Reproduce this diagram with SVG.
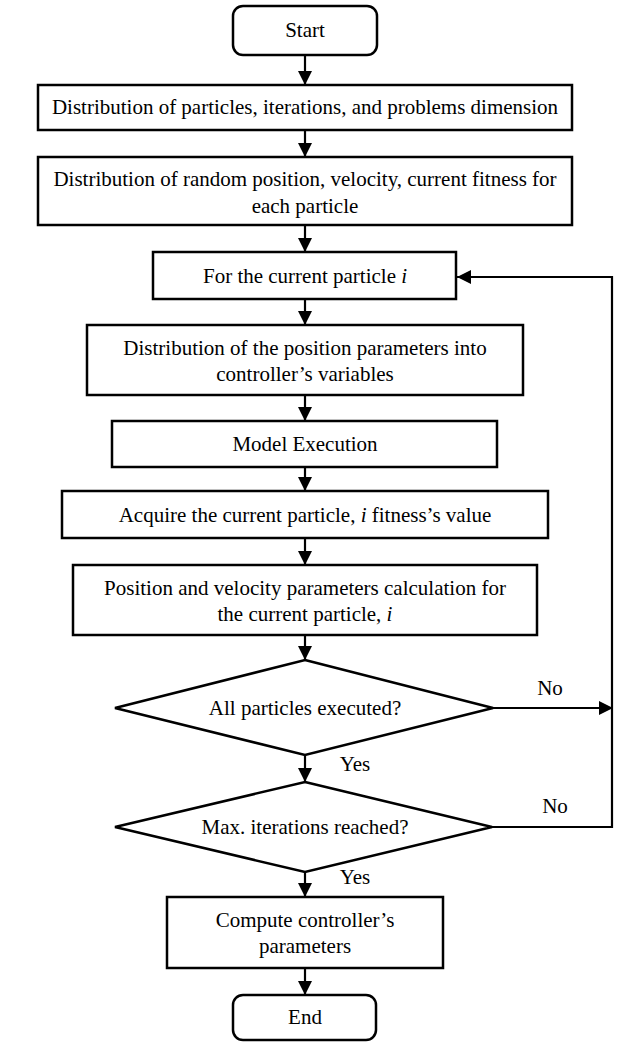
<svg xmlns="http://www.w3.org/2000/svg" width="618" height="1044" viewBox="0 0 618 1044">
<style>
  .box { fill: #fff; stroke: #000; stroke-width: 2.5; }
  .ln { fill: none; stroke: #000; stroke-width: 2.2; }
  text { font-family: "Liberation Serif", "Times New Roman", serif; font-size: 21px; fill: #000; text-anchor: middle; }
  .it { font-style: italic; }
</style>
<defs>
  <marker id="ah" markerUnits="userSpaceOnUse" markerWidth="16" markerHeight="16" viewBox="0 0 16 16" refX="15" refY="8" orient="auto">
    <path d="M1,1 L15,8 L1,15 z" fill="#000"/>
  </marker>
</defs>
<rect width="618" height="1044" fill="#fff"/>
<g id="connectors">
  <line class="ln" x1="305" y1="55" x2="305" y2="85" marker-end="url(#ah)"/>
  <line class="ln" x1="305" y1="130" x2="305" y2="157" marker-end="url(#ah)"/>
  <line class="ln" x1="305" y1="225" x2="305" y2="252" marker-end="url(#ah)"/>
  <line class="ln" x1="305" y1="299" x2="305" y2="325" marker-end="url(#ah)"/>
  <line class="ln" x1="305" y1="395" x2="305" y2="421" marker-end="url(#ah)"/>
  <line class="ln" x1="305" y1="467" x2="305" y2="491" marker-end="url(#ah)"/>
  <line class="ln" x1="305" y1="538" x2="305" y2="565" marker-end="url(#ah)"/>
  <line class="ln" x1="305" y1="635" x2="305" y2="660" marker-end="url(#ah)"/>
  <line class="ln" x1="305" y1="755" x2="305" y2="782" marker-end="url(#ah)"/>
  <line class="ln" x1="305" y1="872" x2="305" y2="897" marker-end="url(#ah)"/>
  <line class="ln" x1="305" y1="968" x2="305" y2="995" marker-end="url(#ah)"/>
  <line class="ln" x1="493" y1="708" x2="613" y2="708" marker-end="url(#ah)"/>
  <polyline class="ln" points="492,827 612,827 612,277 457,277" marker-end="url(#ah)"/>
  <text x="550" y="695">No</text>
  <text x="355" y="771">Yes</text>
  <text x="555" y="813">No</text>
  <text x="355" y="884">Yes</text>
</g>
<g id="start">
  <rect class="box" x="233" y="6" width="144" height="49" rx="10"/>
  <text x="305" y="37">Start</text>
</g>
<g id="init">
  <rect class="box" x="38" y="85" width="534" height="45"/>
  <text x="305" y="114">Distribution of particles, iterations, and problems dimension</text>
</g>
<g id="random">
  <rect class="box" x="38" y="157" width="534" height="68"/>
  <text x="305" y="186">Distribution of random position, velocity, current fitness for</text>
  <text x="305" y="213">each particle</text>
</g>
<g id="current">
  <rect class="box" x="153" y="252" width="303" height="47"/>
  <text x="305" y="283">For the current particle <tspan class="it">i</tspan></text>
</g>
<g id="distpos">
  <rect class="box" x="87" y="325" width="436" height="70"/>
  <text x="305" y="355">Distribution of the position parameters into</text>
  <text x="305" y="381">controller’s variables</text>
</g>
<g id="model">
  <rect class="box" x="112" y="421" width="385" height="46"/>
  <text x="305" y="451">Model Execution</text>
</g>
<g id="acquire">
  <rect class="box" x="62" y="491" width="486" height="47"/>
  <text x="305" y="522">Acquire the current particle, <tspan class="it">i</tspan> fitness’s value</text>
</g>
<g id="posvel">
  <rect class="box" x="73" y="565" width="464" height="70"/>
  <text x="305" y="595">Position and velocity parameters calculation for</text>
  <text x="305" y="621">the current particle, <tspan class="it">i</tspan></text>
</g>
<g id="allexec">
  <polygon class="box" points="305,660 493,708 305,755 115,708"/>
  <text x="305" y="715">All particles executed?</text>
</g>
<g id="maxiter">
  <polygon class="box" points="305,782 492,827 305,872 115,827"/>
  <text x="305" y="834">Max. iterations reached?</text>
</g>
<g id="compute">
  <rect class="box" x="167" y="897" width="276" height="71"/>
  <text x="305" y="927">Compute controller’s</text>
  <text x="305" y="953">parameters</text>
</g>
<g id="end">
  <rect class="box" x="233" y="995" width="143" height="45" rx="10"/>
  <text x="305" y="1024">End</text>
</g>
</svg>
